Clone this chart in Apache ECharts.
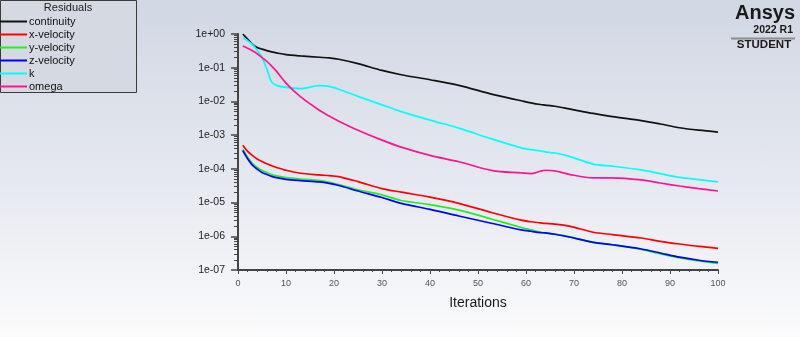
<!DOCTYPE html>
<html><head><meta charset="utf-8">
<script src="https://cdn.jsdelivr.net/npm/echarts@6/dist/echarts.min.js"></script>
<style>
html,body{margin:0;padding:0;}
#c{width:800px;height:337px;background:linear-gradient(to bottom,#d1d7e3 0%,#e6e9f0 55%,#fbfbfc 100%);}
</style>
</head><body><div id="c"></div>
<script>
// ---- data ----
const iterations = [1,2,3,4,5,6,7,8,10,13,17,19,21,25,30,34,40,46,53,59,61,63,64,66,69,74,78,84,88,92,96,100];
const continuity = [1.0,0.71,0.5,0.4,0.355,0.32,0.295,0.275,0.245,0.224,0.204,0.195,0.178,0.132,0.083,0.062,0.044,0.030,0.0162,0.0105,0.0091,0.0081,0.0078,0.0072,0.006,0.0044,0.00355,0.0027,0.00214,0.00166,0.0014,0.00123];
const xVelocity = [5.0e-4,3.3e-4,2.5e-4,1.95e-4,1.66e-4,1.41e-4,1.23e-4,1.1e-4,9.1e-5,7.4e-5,6.6e-5,6.3e-5,5.9e-5,4.2e-5,2.6e-5,2.04e-5,1.45e-5,9.5e-6,5.0e-6,3.0e-6,2.7e-6,2.5e-6,2.4e-6,2.3e-6,2.0e-6,1.32e-6,1.12e-6,8.9e-7,7.1e-7,5.9e-7,5.0e-7,4.4e-7];
const yVelocity = [3.8e-4,2.24e-4,1.45e-4,1.1e-4,8.9e-5,7.8e-5,6.8e-5,6.2e-5,5.5e-5,5.0e-5,4.5e-5,4.0e-5,3.4e-5,2.4e-5,1.7e-5,1.15e-5,8.7e-6,6.0e-6,3.2e-6,1.82e-6,1.55e-6,1.32e-6,1.26e-6,1.17e-6,9.8e-7,6.6e-7,5.6e-7,4.1e-7,3.0e-7,2.3e-7,1.86e-7,1.58e-7];
const zVelocity = [3.5e-4,2.0e-4,1.29e-4,9.8e-5,7.8e-5,6.8e-5,6.0e-5,5.5e-5,4.9e-5,4.5e-5,4.1e-5,3.7e-5,3.2e-5,2.2e-5,1.41e-5,9.5e-6,6.3e-6,4.0e-6,2.4e-6,1.55e-6,1.41e-6,1.29e-6,1.26e-6,1.15e-6,9.5e-7,6.6e-7,5.6e-7,4.2e-7,3.2e-7,2.4e-7,1.95e-7,1.7e-7];
const kRes = [0.78,0.63,0.49,0.33,0.2,0.093,0.038,0.03,0.026,0.024,0.0295,0.028,0.023,0.0141,0.0079,0.005,0.0028,0.00162,7.6e-4,4.2e-4,3.7e-4,3.4e-4,3.2e-4,2.95e-4,2.35e-4,1.38e-4,1.2e-4,9.3e-5,7.2e-5,5.6e-5,4.8e-5,4.1e-5];
const omega = [0.44,0.38,0.32,0.26,0.2,0.155,0.112,0.079,0.035,0.0138,0.0054,0.0037,0.0026,0.0014,7.1e-4,4.4e-4,2.5e-4,1.62e-4,8.9e-5,7.6e-5,7.2e-5,8.5e-5,9.1e-5,8.7e-5,6.9e-5,5.4e-5,5.4e-5,4.7e-5,3.8e-5,3.1e-5,2.6e-5,2.2e-5];
const seriesNames = ['continuity','x-velocity','y-velocity','z-velocity','k','omega'];
const seriesColors = ['#111111','#ff0000','#22ee22','#0000ff','#00ffff','#ff1493'];
const yMajorTicks = [1e-7,1e-6,1e-5,1e-4,1e-3,1e-2,1e-1,1];

const FONT = '"Liberation Sans", Arial, sans-serif';
const yMinorTicks = [];
for (let e = -7; e < 0; e++) for (let m = 2; m <= 9; m++) yMinorTicks.push(m * Math.pow(10, e));
function pairs(v){ return iterations.map((it, i) => [it, v[i]]); }
const allValues = [continuity, xVelocity, yVelocity, zVelocity, kRes, omega];

const chart = echarts.init(document.getElementById('c'), null, {renderer: 'canvas'});
const option = {
  backgroundColor: 'transparent',
  animation: false,
  grid: {left: 238, right: 82, top: 34, bottom: 67},
  legend: {
    orient: 'vertical', left: 0, top: 15, padding: 0, itemGap: 0,
    itemWidth: 27, itemHeight: 2, icon: 'rect',
    textStyle: {fontFamily: FONT, fontSize: 11, color: '#111', lineHeight: 13, padding: [0,0,0,-3]},
    data: seriesNames
  },
  graphic: [
    {type: 'rect', z: -1, shape: {x: 0.5, y: 0.5, width: 136, height: 92}, style: {fill: '#d5d9e2', stroke: '#3a3a3a', lineWidth: 1}},
    {type: 'text', x: 68, y: 8, style: {text: 'Residuals', font: '11px ' + FONT, fill: '#222', textAlign: 'center', textVerticalAlign: 'middle'}},
    {type: 'text', x: 795, y: 13, style: {text: 'Ansys', font: 'bold 20px ' + FONT, fill: '#1a1a1a', textAlign: 'right', textVerticalAlign: 'middle'}},
    {type: 'text', x: 793, y: 30.5, style: {text: '2022 R1', font: 'bold 10.5px ' + FONT, fill: '#1a1a1a', textAlign: 'right', textVerticalAlign: 'middle'}},
    {type: 'line', shape: {x1: 731, y1: 38.5, x2: 795, y2: 38.5}, style: {stroke: '#8c8c8c', lineWidth: 2}},
    {type: 'text', x: 764, y: 45, style: {text: 'STUDENT', font: 'bold 11.5px ' + FONT, fill: '#1a1a1a', textAlign: 'center', textVerticalAlign: 'middle'}}
  ],
  xAxis: {
    type: 'value', min: 0, max: 100, interval: 10,
    name: 'Iterations', nameLocation: 'middle', nameGap: 26,
    nameTextStyle: {fontFamily: FONT, fontSize: 14, color: '#1a1a1a'},
    axisLine: {lineStyle: {color: '#444', width: 2}},
    axisTick: {show: true, length: 4, lineStyle: {color: '#444', width: 1}},
    minorTick: {show: true, splitNumber: 5, length: 2, lineStyle: {color: '#444', width: 1}},
    axisLabel: {fontFamily: FONT, fontSize: 9, color: '#555', margin: 9},
    splitLine: {show: false}
  },
  yAxis: [
    {
      type: 'log', logBase: 10, min: 1e-7, max: 1, position: 'left',
      axisLine: {show: true, lineStyle: {color: '#444', width: 2}},
      axisTick: {show: true, length: 7, customValues: yMajorTicks, lineStyle: {color: '#444', width: 1.5}},
      axisLabel: {
        customValues: yMajorTicks, fontFamily: FONT, fontSize: 10.5, color: '#222', margin: 13,
        formatter: function (v) {
          const e = Math.round(Math.log10(v));
          return '1e' + (e >= 0 ? '+' : '-') + String(Math.abs(e)).padStart(2, '0');
        }
      },
      splitLine: {show: false}
    },
    {
      type: 'log', logBase: 10, min: 1e-7, max: 1, position: 'left',
      axisLine: {show: false},
      axisTick: {show: true, length: 4, customValues: yMinorTicks, lineStyle: {color: '#444', width: 1}},
      axisLabel: {show: false},
      splitLine: {show: false}
    }
  ],
  series: seriesNames.map((n, i) => ({
    name: n, type: 'line', yAxisIndex: 0, smooth: 0.3, showSymbol: false, symbol: 'none',
    color: seriesColors[i],
    lineStyle: {color: seriesColors[i], width: 1.7},
    data: pairs(allValues[i])
  }))
};
chart.setOption(option);
</script>
</body></html>
